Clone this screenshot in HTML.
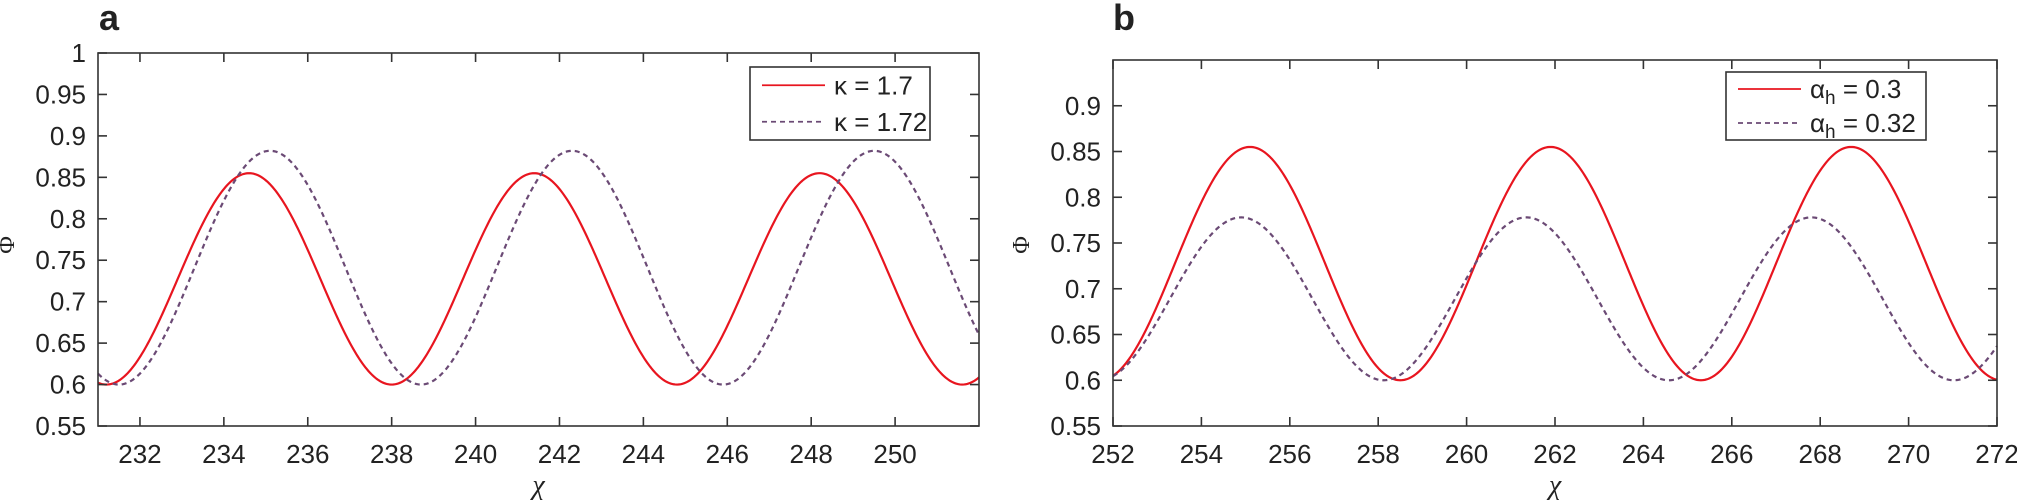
<!DOCTYPE html>
<html><head><meta charset="utf-8"><style>
html,body{margin:0;padding:0;background:#fff;}
svg{display:block;font-family:"Liberation Sans",sans-serif;}
</style></head><body>
<svg id="s" width="2017" height="500" xmlns="http://www.w3.org/2000/svg">
<text x="99" y="30" font-size="36" font-weight="bold" fill="#222">a</text>
<text x="1113" y="30" font-size="36" font-weight="bold" fill="#222">b</text>
<g id="g"></g>
</svg>
<script>
const NS="http://www.w3.org/2000/svg",g=document.getElementById('g');
function el(t,a,txt){const e=document.createElementNS(NS,t);for(const k in a)e.setAttribute(k,a[k]);if(txt!==undefined)e.textContent=txt;g.appendChild(e);return e;}
function panel(P){
 const X=v=>P.l+(v-P.x0)/(P.x1-P.x0)*(P.r-P.l), Y=v=>P.b-(v-P.y0)/(P.y1-P.y0)*(P.b-P.t);
 for(const s of P.series){let d="";for(let i=0;i<=600;i++){const x=P.x0+(P.x1-P.x0)*i/600;const y=s.mid+s.amp*Math.cos(2*Math.PI*(x-s.pk)/s.per);d+=(i?"L":"M")+X(x).toFixed(2)+","+Y(y).toFixed(2);}
  el('path',{d,fill:'none',stroke:s.c,'stroke-width':2.2,'stroke-dasharray':s.dash||'none'});}
 el('rect',{x:P.l,y:P.t,width:P.r-P.l,height:P.b-P.t,fill:'none',stroke:'#333','stroke-width':1.6});
 for(const v of P.xt){const x=X(v);el('line',{x1:x,x2:x,y1:P.b,y2:P.b-9,stroke:'#333','stroke-width':1.6});el('line',{x1:x,x2:x,y1:P.t,y2:P.t+9,stroke:'#333','stroke-width':1.6});el('text',{x:x,y:P.b+37,'font-size':26,'text-anchor':'middle',fill:'#222'},v);}
 for(const v of P.yt){const y=Y(v);el('line',{x1:P.l,x2:P.l+9,y1:y,y2:y,stroke:'#333','stroke-width':1.6});el('line',{x1:P.r,x2:P.r-9,y1:y,y2:y,stroke:'#333','stroke-width':1.6});el('text',{x:P.l-12,y:y+9,'font-size':26,'text-anchor':'end',fill:'#222'},String(v));}
 el('text',{x:(P.l+P.r)/2,y:494,'font-size':28,'font-family':'Liberation Serif,serif','font-style':'italic','text-anchor':'middle',fill:'#222'},'χ');
 el('text',{x:0,y:0,'font-size':24,'font-family':'Liberation Serif,serif','text-anchor':'middle',fill:'#222',transform:`translate(${P.l-84},245) rotate(-90)`},'Φ');
 const L=P.leg;el('rect',{x:L.x,y:L.y,width:L.w,height:L.h,fill:'#fff',stroke:'#333','stroke-width':1.6});
 L.items.forEach((it,i)=>{const y=L.y+L.h*(i*2+1)/4;el('line',{x1:L.x+12,x2:L.x+75,y1:y,y2:y,stroke:it.c,'stroke-width':1.8,'stroke-dasharray':it.dash||'none'});
  const t=el('text',{x:L.x+84,y:y+9,'font-size':26,fill:'#222'});t.innerHTML=it.html;});
}
panel({l:98,r:979,t:53,b:426,x0:231,x1:252,y0:0.55,y1:1,
 xt:[232,234,236,238,240,242,244,246,248,250],yt:[0.55,0.6,0.65,0.7,0.75,0.8,0.85,0.9,0.95,1],
 series:[{c:'#e8151f',mid:0.7275,amp:0.1275,per:6.8,pk:234.6},{c:'#6b4a75',dash:'5,4',mid:0.741,amp:0.141,per:7.2,pk:235.1}],
 leg:{x:750,y:67,w:180,h:73,items:[{c:'#e8151f',html:'κ = 1.7'},{c:'#6b4a75',dash:'5,4',html:'κ = 1.72'}]}});
panel({l:1113,r:1997,t:60,b:426,x0:252,x1:272,y0:0.55,y1:0.95,
 xt:[252,254,256,258,260,262,264,266,268,270,272],yt:[0.55,0.6,0.65,0.7,0.75,0.8,0.85,0.9],
 series:[{c:'#e8151f',mid:0.7275,amp:0.1275,per:6.8,pk:255.1},{c:'#6b4a75',dash:'5,4',mid:0.689,amp:0.089,per:6.45,pk:254.9}],
 leg:{x:1726,y:72,w:200,h:68,items:[{c:'#e8151f',html:'α<tspan dy="6" font-size="19">h</tspan><tspan dy="-6"> = 0.3</tspan>'},{c:'#6b4a75',dash:'5,4',html:'α<tspan dy="6" font-size="19">h</tspan><tspan dy="-6"> = 0.32</tspan>'}]}});
</script>
</body></html>
